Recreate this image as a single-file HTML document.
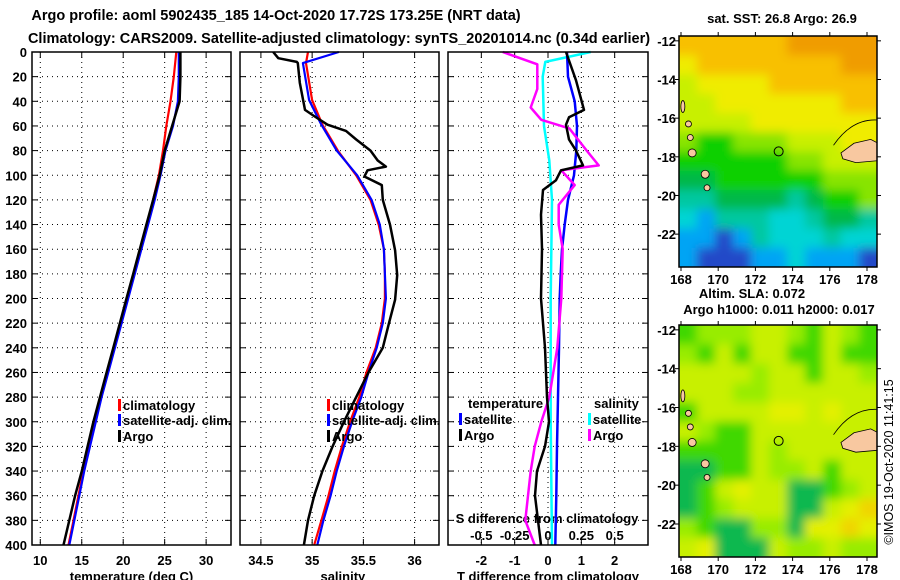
<!DOCTYPE html>
<html><head><meta charset="utf-8"><style>
body{margin:0;background:#fff}
svg{display:block;font-family:"Liberation Sans",Arial,sans-serif;font-weight:bold}
</style></head><body>
<svg id="c" width="900" height="580" viewBox="0 0 900 580">
<defs>
<filter id="blur" x="-10%" y="-10%" width="120%" height="120%"><feGaussianBlur stdDeviation="5"/></filter>
<clipPath id="clip1"><rect x="679" y="36" width="198" height="231"/></clipPath>
<clipPath id="clip2"><rect x="679" y="325" width="198" height="232"/></clipPath>
</defs>
<text x="276" y="20" font-size="14.5" text-anchor="middle">Argo profile: aoml 5902435_185 14-Oct-2020 17.72S 173.25E (NRT data)</text>
<text x="339" y="43" font-size="14.5" text-anchor="middle">Climatology: CARS2009. Satellite-adjusted climatology: synTS_20201014.nc (0.34d earlier)</text>
</svg>
<script>
// ---- data ----
const depthTicks=[0,20,40,60,80,100,120,140,160,180,200,220,240,260,280,300,320,340,360,380,400];
const tTicks=[10,15,20,25,30];
const sTicks=[34.5,35,35.5,36];
const dTTicks=[-2,-1,0,1,2];
const dSTicks=[-0.5,-0.25,0,0.25,0.5];
const dSTickLabels=["-0.5","-0.25","0","0.25","0.5"];
const zStd=[0,20,40,60,80,100,120,140,160,180,200,220,240,260,280,300,320,340,360,380,400];
const tClim=[26.4,26.1,25.7,25.2,24.8,24.3,23.6,22.9,22.1,21.3,20.5,19.7,18.9,18.1,17.3,16.6,15.9,15.2,14.6,14.0,13.4];
const tSat=[26.7,26.7,26.6,26.0,25.1,24.5,23.8,23.0,22.2,21.4,20.6,19.8,19.0,18.2,17.4,16.7,16.0,15.3,14.7,14.1,13.5];
const tArgo=[26.9,26.9,26.8,25.9,25.0,24.4,23.6,22.8,22.0,21.2,20.4,19.6,18.8,18.0,17.2,16.4,15.7,15.0,14.2,13.5,12.8];
const zSClim=[0,9,39,59,80,100,120,140,160,180,200,220,240,260,280,300,320,340,360,380,400];
const sClim=[34.96,34.94,35.0,35.10,35.25,35.43,35.57,35.65,35.70,35.71,35.71,35.68,35.62,35.53,35.46,35.37,35.29,35.22,35.16,35.09,35.02];
const sSat=[35.26,34.91,34.97,35.09,35.24,35.44,35.58,35.66,35.70,35.71,35.72,35.69,35.63,35.55,35.48,35.39,35.31,35.24,35.18,35.11,35.05];
const zSArgo=[0,5,8,9,25,47,52,59,64,71,80,88,93,96,101,108,120,140,161,181,201,220,240,260,280,300,320,340,360,380,400];
const sArgo=[34.62,34.67,34.85,34.86,34.88,34.93,35.02,35.15,35.33,35.43,35.57,35.64,35.72,35.54,35.51,35.68,35.69,35.76,35.81,35.83,35.81,35.75,35.69,35.55,35.43,35.31,35.2,35.1,35.02,34.96,34.92];
const zDTSat=[0,20,40,60,80,100,120,140,160,180,200,240,280,320,360,400];
const dTSat=[0.57,0.6,0.8,0.87,0.85,0.78,0.6,0.5,0.42,0.38,0.35,0.33,0.3,0.27,0.25,0.22];
const zDTArgo=[0,23,47,53,59,71,80,92,96,104,112,132,160,200,240,280,300,320,340,360,380,400];
const dTArgo=[0.54,0.84,1.08,0.63,0.54,0.63,0.84,1.05,0.39,0.24,-0.15,-0.21,-0.18,-0.21,-0.09,-0.03,0.03,-0.09,-0.33,-0.39,-0.3,-0.21];
const zDSSat=[0,8,20,60,88,120,200,300,400];
const dSSat=[0.32,-0.02,-0.04,-0.03,0.01,0.03,0.02,0.02,0.03];
const zDSArgo=[0,10,30,45,55,62,80,92,96,108,124,140,160,200,240,260,280,300,320,340,360,380,400];
const dSArgo=[-0.34,-0.08,-0.08,-0.13,-0.05,0.16,0.29,0.38,0.10,0.2,0.08,0.08,0.11,0.10,0.07,0.04,0.01,-0.05,-0.1,-0.13,-0.15,-0.17,-0.1];
const sstRows=["ooooooOOOOO","YooooooooOO","yYYYYoooooo","yyYYYYYYYoo","yyyyYYYYYYY","LGGLLLyyyYY","GGGGGGLLyyy","ggGGGGGGLLL","TTggggTgGGL","CBTTTCCTggT","BBDBTCCCTCC","BDDDBBCBBBD"];
const slaRows=["GLLLyyLGyLG","LGyGyyGGyGG","yyyyLyyGyyL","yyyLLyyyyyy","GyyyyYYyYyy","yLGGyyyyyyy","GGGGyLyyyyy","ggGGyLLyGyy","gGyYyyggGLy","gGLyyyggyYO","LGggLLgYYOY","yYgggyLLyLL"];
const lonTicks=[168,170,172,174,176,178];
const latTicks=[-12,-14,-16,-18,-20,-22];
const argoLon=173.25, argoLat=-17.72;

// ---- drawing ----
const NS="http://www.w3.org/2000/svg";
const svg=document.getElementById('c');
function mk(tag,at,parent){const e=document.createElementNS(NS,tag);for(const k in at)e.setAttribute(k,at[k]);(parent||svg).appendChild(e);return e;}
const yTop=52,yBot=545;
const yD=d=>yTop+d*(yBot-yTop)/400;
const panels=[{x0:32,x1:231,min:9,max:33},{x0:240,x1:439,min:34.296,max:36.238},{x0:448,x1:648,min:-3,max:3}];
panels.forEach(p=>p.f=v=>p.x0+(v-p.min)*(p.x1-p.x0)/(p.max-p.min));
const fS3=v=>panels[2].f(v*4);
function grid(p,xt,name){
  const g=mk('g',{});
  
  
  depthTicks.forEach(d=>{if(d>0&&d<400){mk('line',{x1:p.x0,x2:p.x1,y1:yD(d),y2:yD(d),stroke:'#000','stroke-dasharray':'1 4'},g);
    mk('line',{x1:p.x0,x2:p.x0+6,y1:yD(d),y2:yD(d),stroke:'#000'},g);mk('line',{x1:p.x1-6,x2:p.x1,y1:yD(d),y2:yD(d),stroke:'#000'},g);}});
  xt.forEach(v=>{const x=p.f(v);mk('line',{x1:x,x2:x,y1:yTop,y2:yBot,stroke:'#000','stroke-dasharray':'1 4'},g);
    mk('line',{x1:x,x2:x,y1:yTop,y2:yTop+6,stroke:'#000'},g);mk('line',{x1:x,x2:x,y1:yBot-6,y2:yBot,stroke:'#000'},g);});
}
function frameRect(p,name){const r=mk('rect',{x:p.x0,y:yTop,width:p.x1-p.x0,height:yBot-yTop,fill:'none',stroke:'#000','stroke-width':1.5});
  
  }
function seriesLine(zs,vs,fx,col,name,w){
  let d='';zs.forEach((z,i)=>{d+=(i?'L':'M')+fx(vs[i]).toFixed(1)+','+yD(z).toFixed(1);});
  const e=mk('path',{d:d,fill:'none',stroke:col,'stroke-width':w||2.2,'stroke-linejoin':'round'});
  
  
}
function txt(x,y,s,size,anchor,name,col){const e=mk('text',{x:x,y:y,'font-size':size,'text-anchor':anchor||'middle',fill:col||'#000'});e.textContent=s;
  
  return e;}
grid(panels[0],tTicks,'temperature');grid(panels[1],sTicks,'salinity');grid(panels[2],dTTicks,'difference');
depthTicks.forEach(d=>txt(27,yD(d)+5,String(d),13,'end','depth-tick-label'));
tTicks.forEach(v=>txt(panels[0].f(v),565,String(v),13,'middle','temperature-tick-label'));
sTicks.forEach(v=>txt(panels[1].f(v),565,String(v),13,'middle','salinity-tick-label'));
dTTicks.forEach(v=>txt(panels[2].f(v),565,String(v),13,'middle','t-diff-tick-label'));
dSTicks.forEach((v,i)=>txt(fS3(v),540,dSTickLabels[i],13,'middle','s-diff-tick-label'));
txt(panels[0].f(21),581,'temperature (deg C)',13,'middle','x-axis-title-temperature');
txt(panels[1].f(35.3),581,'salinity',13,'middle','x-axis-title-salinity');
txt(548,581,'T difference from climatology',13,'middle','x-axis-title-t-diff');
txt(547,523,'S difference from climatology',13,'middle','x-axis-title-s-diff');
const P0=panels[0].f,P1=panels[1].f,P2=panels[2].f;
seriesLine(zStd,tClim,P0,'#ff0000','temperature-climatology-line');
seriesLine(zStd,tSat,P0,'#0000ff','temperature-satellite-line');
seriesLine(zStd,tArgo,P0,'#000','temperature-argo-line',2.5);
seriesLine(zSClim,sClim,P1,'#ff0000','salinity-climatology-line');
seriesLine(zSClim,sSat,P1,'#0000ff','salinity-satellite-line');
seriesLine(zSArgo,sArgo,P1,'#000','salinity-argo-line',2.5);
seriesLine(zDSSat,dSSat,fS3,'#00ffff','s-diff-satellite-line',2.5);
seriesLine(zDTSat,dTSat,P2,'#0000ff','t-diff-satellite-line',2.5);
seriesLine(zDSArgo,dSArgo,fS3,'#ff00ff','s-diff-argo-line',2.5);
seriesLine(zDTArgo,dTArgo,P2,'#000','t-diff-argo-line',2.5);
frameRect(panels[0],'temperature-panel');frameRect(panels[1],'salinity-panel');frameRect(panels[2],'difference-panel');
function leg(x,y,col,label,name){const r=mk('rect',{x:x,y:y-11,width:3,height:12,fill:col});
  
  
  txt(x+5,y,label,13,'start',name);}
[118,327].forEach(x=>{leg(x,410,'#ff0000','climatology','legend-climatology');leg(x,425,'#0000ff','satellite-adj. clim.','legend-satellite');leg(x,441,'#000','Argo','legend-argo');});
txt(468,408,'temperature',13,'start','legend-temperature-header');
leg(459,424,'#0000ff','satellite','legend-t-satellite');leg(459,440,'#000','Argo','legend-t-argo');
txt(594,408,'salinity',13,'start','legend-salinity-header');
leg(588,424,'#00ffff','satellite','legend-s-satellite');leg(588,440,'#ff00ff','Argo','legend-s-argo');
const cols={O:'#f09c00',o:'#f8c000',Y:'#f0ec00',y:'#c8f000',L:'#88e400',G:'#10d000',g:'#00b848',T:'#00c8a0',C:'#00d4d4',B:'#00a4f4',D:'#2048c8'};
const cols2={O:'#f0d400',Y:'#e4f000',y:'#c8f000',L:'#98ec00',G:'#40d800',g:'#10b850'};
function drawMap(y0,y1,rows,palette,name,clipId){
  const x0=679,x1=877;
  const fx=lon=>681+(lon-168)*18.6;
  const latTop=-11.75,latBot=-23.7;
  const fy=lat=>y0+(lat-latTop)*(y1-y0)/(latBot-latTop);
  const g=mk('g',{});
  
  
  const cg=mk('g',{'clip-path':'url(#'+clipId+')'},g);
  const bg=mk('g',{filter:'url(#blur)'},cg);
  const nr=rows.length,nc=rows[0].length,cw=(x1-x0)/nc,ch=(y1-y0)/nr,ext=20;
  rows.forEach((r,i)=>[...r].forEach((c,j)=>{
    let x=x0+j*cw,y=y0+i*ch,w=cw+0.5,h=ch+0.5;
    if(j===0){x-=ext;w+=ext;} if(j===nc-1){w+=ext;}
    if(i===0){y-=ext;h+=ext;} if(i===nr-1){h+=ext;}
    mk('rect',{x:x,y:y,width:w,height:h,fill:palette[c]},bg);}));
  const isl=[[168.4,-16.3,3,3],[168.5,-17.0,3,3],[168.6,-17.8,4,4],[169.3,-18.9,4,4],[169.4,-19.6,3,3],[168.1,-15.4,2,6]];
  isl.forEach(a=>mk('ellipse',{cx:fx(a[0]),cy:fy(a[1]),rx:a[2],ry:a[3],fill:'#f8c8a0',stroke:'#000','stroke-width':0.8},cg));
  mk('path',{d:`M${fx(176.6)},${fy(-17.8)} L${fx(177.3)},${fy(-17.3)} L${fx(178.2)},${fy(-17.1)} L${fx(178.6)},${fy(-17.3)} L${fx(178.6)},${fy(-18.2)} L${fx(177.4)},${fy(-18.3)} L${fx(176.7)},${fy(-18.1)}Z`,fill:'#f8c8a0',stroke:'#000','stroke-width':0.8},cg);
  mk('path',{d:`M${fx(176.2)},${fy(-17.4)} Q${fx(177.2)},${fy(-16.0)} ${fx(178.6)},${fy(-16.1)}`,fill:'none',stroke:'#000','stroke-width':0.8},cg);
  const c=mk('circle',{cx:fx(argoLon),cy:fy(argoLat),r:4.5,fill:'none',stroke:'#000','stroke-width':1},g);
  
  
  mk('rect',{x:x0,y:y0,width:x1-x0,height:y1-y0,fill:'none',stroke:'#000','stroke-width':1.5},g);
  lonTicks.forEach(l=>{mk('line',{x1:fx(l),x2:fx(l),y1:y0-4,y2:y0,stroke:'#000'},g);mk('line',{x1:fx(l),x2:fx(l),y1:y1,y2:y1+4,stroke:'#000'},g);
    txt(fx(l),y1+17,String(l),13,'middle',name+'-lon-label');});
  latTicks.forEach(l=>{mk('line',{x1:x0-4,x2:x0,y1:fy(l),y2:fy(l),stroke:'#000'},g);mk('line',{x1:x1,x2:x1+4,y1:fy(l),y2:fy(l),stroke:'#000'},g);
    txt(676,fy(l)+5,String(l),13,'end',name+'-lat-label');});
}
drawMap(36,267,sstRows,cols,'sst-map','clip1');
drawMap(325,557,slaRows,cols2,'sla-map','clip2');
txt(782,23,'sat. SST: 26.8 Argo: 26.9',13,'middle','sst-map-title');
txt(752,298,'Altim. SLA: 0.072',13,'middle','sla-map-title');
txt(779,314,'Argo h1000: 0.011 h2000: 0.017',13,'middle','sla-map-subtitle');
const w=txt(0,0,'©IMOS 19-Oct-2020 11:41:15',12.5,'middle','imos-timestamp');
w.setAttribute('font-weight','normal');
w.setAttribute('transform','translate(893,462) rotate(-90)');
</script>
</body></html>
